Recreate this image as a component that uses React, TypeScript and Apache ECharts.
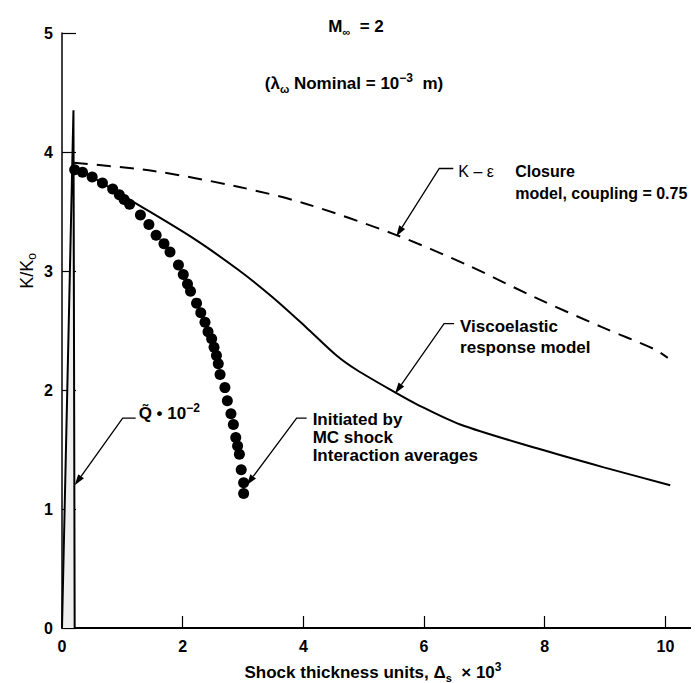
import React, { useEffect, useRef } from 'react';
import * as echarts from 'echarts';

// ---- data ----
const X_TICKS = [0, 2, 4, 6, 8, 10];
const Y_TICKS = [0, 1, 2, 3, 4, 5];
const X_MAX = 10.64;

// Q~ * 10^-2 spike near the origin
const Q_SPIKE: number[][] = [[0, 0], [0.19, 4.35], [0.21, 0]];

// Initiated by MC shock interaction averages (dots)
const MC_X = [0.21, 0.34, 0.5, 0.67, 0.84, 0.95, 1.03, 1.12, 1.3, 1.44, 1.56, 1.69, 1.79, 1.93, 2.01, 2.08, 2.13, 2.23, 2.3, 2.37, 2.42, 2.48, 2.52, 2.56, 2.59, 2.62, 2.7, 2.74, 2.8, 2.84, 2.88, 2.91, 2.94, 2.97, 3.01, 3.01];
const MC_Y = [3.85, 3.83, 3.79, 3.74, 3.69, 3.64, 3.6, 3.56, 3.47, 3.39, 3.3, 3.23, 3.16, 3.05, 2.97, 2.89, 2.83, 2.73, 2.65, 2.57, 2.49, 2.43, 2.36, 2.29, 2.22, 2.13, 2.02, 1.91, 1.8, 1.71, 1.6, 1.53, 1.46, 1.33, 1.22, 1.13];

// Viscoelastic response model (solid)
const VISCO_X = [0.2, 0.6, 1.12, 2.16, 2.92, 3.49, 4.04, 4.55, 4.88, 5.52, 5.88, 6.6, 7.87, 8.98, 10.08];
const VISCO_Y = [3.88, 3.76, 3.6, 3.28, 3.01, 2.78, 2.53, 2.29, 2.17, 1.98, 1.88, 1.71, 1.51, 1.35, 1.2];

// K-epsilon closure model, coupling = 0.75 (dashed)
const KEPS_X = [0.2, 1.52, 2.9, 4.01, 5.5, 6.72, 7.83, 8.94, 9.83, 10.04];
const KEPS_Y = [3.91, 3.84, 3.71, 3.57, 3.31, 3.05, 2.78, 2.53, 2.34, 2.27];

const FONT = '"Liberation Sans", Arial, Helvetica, sans-serif';
const ANN = 17;

const zip = (xs: number[], ys: number[]) => xs.map((x, i) => [x, ys[i]]);

export default function App() {
  const ref = useRef<HTMLDivElement>(null);

  useEffect(() => {
    if (!ref.current) return;
    const chart = echarts.init(ref.current, undefined, { renderer: 'svg' });

    const axisLabelStyle = {
      color: '#000',
      fontFamily: FONT,
      fontWeight: 'bold' as const,
      fontSize: 16,
    };

    chart.setOption({
      animation: false,
      backgroundColor: '#fff',
      grid: { left: 54, right: 0, top: 25, bottom: 63, containLabel: false },
      xAxis: {
        type: 'value',
        min: 0,
        max: X_MAX,
        interval: 2,
        axisLine: { show: true, lineStyle: { color: '#000', width: 2 } },
        axisTick: { show: true, inside: true, length: 12, lineStyle: { color: '#000', width: 1.2 } },
        axisLabel: {
          ...axisLabelStyle,
          margin: 10,
          formatter: (v: number) => (X_TICKS.includes(v) ? String(v) : ''),
        },
        splitLine: { show: false },
      },
      yAxis: {
        type: 'value',
        min: 0,
        max: 5,
        interval: 1,
        axisLine: { show: true, lineStyle: { color: '#000', width: 1.5 } },
        axisTick: { show: true, inside: true, length: 14, lineStyle: { color: '#000', width: 1.2 } },
        axisLabel: {
          ...axisLabelStyle,
          margin: 9,
          formatter: (v: number) => (Y_TICKS.includes(v) ? String(v) : ''),
        },
        splitLine: { show: false },
      },
      series: [
        {
          name: 'Q',
          type: 'line',
          data: Q_SPIKE,
          symbol: 'none',
          lineStyle: { color: '#000', width: 2 },
          areaStyle: { color: '#efefef', opacity: 1 },
          z: 1,
        },
        {
          name: 'K-eps',
          type: 'line',
          data: zip(KEPS_X, KEPS_Y),
          symbol: 'none',
          smooth: 0.3,
          lineStyle: { color: '#000', width: 2, type: [14, 9] },
        },
        {
          name: 'Viscoelastic',
          type: 'line',
          data: zip(VISCO_X, VISCO_Y),
          symbol: 'none',
          smooth: 0.3,
          lineStyle: { color: '#000', width: 2 },
        },
        {
          name: 'MC',
          type: 'scatter',
          data: zip(MC_X, MC_Y),
          symbol: 'circle',
          symbolSize: 11,
          itemStyle: { color: '#000', opacity: 1 },
        },
      ],
    });

    const toPx = (p: number[]) => chart.convertToPixel({ gridIndex: 0 }, p) as number[];

    const graphics: any[] = [];
    const arrow = (tip: number[], dx: number, dy: number, stub: number) => {
      const [tx, ty] = toPx(tip);
      const kx = tx + dx;
      const ky = ty + dy;
      const len = Math.hypot(dx, dy);
      const ux = -dx / len;
      const uy = -dy / len;
      const ah = 11;
      const aw = 3.5;
      const bx = tx - ux * ah;
      const by = ty - uy * ah;
      graphics.push({
        type: 'polyline',
        shape: { points: [[kx + stub, ky], [kx, ky], [bx, by]] },
        style: { stroke: '#000', lineWidth: 1.3, fill: null },
        z: 10,
      });
      graphics.push({
        type: 'polygon',
        shape: {
          points: [
            [tx, ty],
            [bx - uy * aw, by + ux * aw],
            [bx + uy * aw, by - ux * aw],
          ],
        },
        style: { fill: '#000' },
        z: 10,
      });
      return [kx, ky];
    };

    const textEl = (x: number, y: number, text: string, opts: any = {}) => ({
      type: 'text',
      x,
      y,
      z: 10,
      style: {
        text,
        fill: '#000',
        fontFamily: FONT,
        fontWeight: 'bold',
        fontSize: ANN,
        align: 'left',
        verticalAlign: 'top',
        ...opts,
      },
    });

    const rich = {
      b: { fontFamily: FONT, fontWeight: 'bold', fontSize: ANN, lineHeight: 22, fill: '#000' },
      n: { fontFamily: FONT, fontWeight: 'normal', fontSize: 18, lineHeight: 22, fill: '#000' },
      sub: { fontFamily: FONT, fontWeight: 'bold', fontSize: 11, lineHeight: 12, verticalAlign: 'bottom', fill: '#000' },
      sup: { fontFamily: FONT, fontWeight: 'bold', fontSize: 12, lineHeight: 12, verticalAlign: 'top', fill: '#000' },
      nsub: { fontFamily: FONT, fontWeight: 'normal', fontSize: 12, lineHeight: 10, verticalAlign: 'bottom', fill: '#000' },
    };

    // Q~ * 10^-2
    {
      const [kx, ky] = arrow([0.21, 1.2], 48, -67, 13);
      graphics.push(
        textEl(kx + 16, ky - 5, '{b|Q\u0303 \u2022 10}{sup|\u22122}', { rich, verticalAlign: 'middle' })
      );
    }
    // Initiated by MC shock interaction averages
    {
      const [kx, ky] = arrow([3.06, 1.2], 50, -67, 10);
      graphics.push(
        textEl(kx + 16, ky - 8, 'Initiated by\nMC shock\nInteraction averages', { lineHeight: 18 })
      );
    }
    // Viscoelastic response model
    {
      const [kx, ky] = arrow([5.52, 1.97], 49, -70, 10);
      graphics.push(textEl(kx + 16, ky - 8, 'Viscoelastic\nresponse model', { lineHeight: 21 }));
    }
    // K - eps closure
    {
      const [kx, ky] = arrow([5.54, 3.29], 43, -68, 14);
      graphics.push(textEl(kx + 19, ky + 3, 'K \u2013 \u03b5', { fontWeight: 'normal', fontSize: 16, verticalAlign: 'middle' }));
      graphics.push(textEl(kx + 76, ky - 8, 'Closure\nmodel, coupling = 0.75', { fontSize: 16, lineHeight: 22 }));
    }

    // titles
    graphics.push(
      textEl(348, 18, '{b|M}{sub|\u221e}{b|  = 2}', { rich, align: 'center', verticalAlign: 'middle' })
    );
    graphics.push(
      textEl(346, 75, '{b|(\u03bb}{sub|\u03c9}{b| Nominal = 10}{sup|\u22123}{b|  m)}', {
        rich,
        align: 'center',
        verticalAlign: 'middle',
      })
    );
    // x axis name
    graphics.push(
      textEl(365, 664, '{b|Shock thickness units, \u0394}{sub|s}{b|  \u00d7 10}{sup|3}', {
        rich,
        align: 'center',
        verticalAlign: 'middle',
      })
    );
    // y axis name
    graphics.push({
      type: 'text',
      x: 19,
      y: 263,
      rotation: Math.PI / 2,
      z: 10,
      style: {
        text: '{n|K/K}{nsub|o}',
        rich,
        align: 'center',
        verticalAlign: 'middle',
        fill: '#000',
      },
    });

    chart.setOption({ graphic: graphics });

    return () => chart.dispose();
  }, []);

  return <div ref={ref} style={{ width: 699, height: 683 }} />;
}
